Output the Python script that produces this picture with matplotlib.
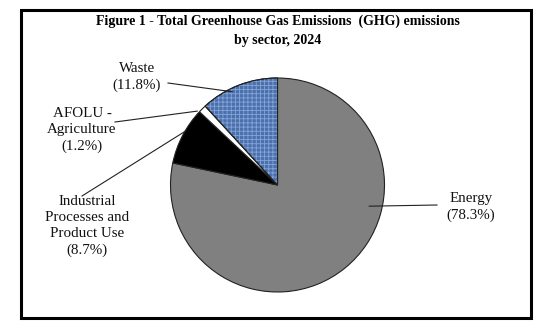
import matplotlib
matplotlib.use("Agg")
import matplotlib.pyplot as plt
from matplotlib.patches import Wedge, Rectangle
import numpy as np

sectors = ["Energy", "Industrial\nProcesses and\nProduct Use", "AFOLU -\nAgriculture", "Waste"]
shares = [78.3, 8.7, 1.2, 11.8]
colors = ["#808080", "#000000", "#ffffff", "#4a70ad"]
explode = [0.0, 0.025, 0.025, 0.02]

title = "Figure 1 - Total Greenhouse Gas Emissions  (GHG) emissions\nby sector, 2024"

plt.rcParams["hatch.linewidth"] = 0.6

W, H = 557, 334
fig = plt.figure(figsize=(W / 100, H / 100), dpi=100)
ax = fig.add_axes([0, 0, 1, 1])

cx, cy, r = 277.5, H - 185, 107
wedges, _ = ax.pie(
    shares, colors=colors, startangle=90, counterclock=False,
    explode=explode, center=(cx, cy), radius=r,
    wedgeprops=dict(edgecolor="#222222", linewidth=0.8),
)
ax.set_xlim(0, W)
ax.set_ylim(0, H)
ax.set_aspect("equal", adjustable="box")
ax.axis("off")

# speckled texture on the Waste wedge
w = wedges[3]
ax.add_patch(Wedge(w.center, w.r, w.theta1, w.theta2, facecolor="none",
                   edgecolor="#86a4d6", hatch="++++", linewidth=0))
ax.add_patch(Wedge(w.center, w.r, w.theta1, w.theta2, facecolor="none",
                   edgecolor="#222222", linewidth=0.8))

# outer frame
ax.add_patch(Rectangle((21, H - 318), 510, 308, fill=False,
                       edgecolor="black", linewidth=2.2))

ax.text(W / 2 - 1, H - 31, title, ha="center", va="center",
        fontsize=10, fontweight="bold", family="Liberation Serif",
        linespacing=1.6)

# labels with leader lines (label centre, line start, line end as angle/radius fraction)
label_pos = [(471, H - 207), (87, H - 226), (82, H - 130), (137, H - 77)]
line_start = [(437, H - 205), (82, H - 196), (115, H - 122), (168, H - 83)]
line_end = [(-13, 0.88), (150, 1.0), (137.4, 1.02), (116, 0.97)]
for wd, name, val, lp, ls, (ang, f) in zip(wedges, sectors, shares,
                                            label_pos, line_start, line_end):
    ax.text(lp[0], lp[1], f"{name}\n({val}%)", ha="center", va="center",
            fontsize=10.8, family="Liberation Serif", linespacing=1.3,
            color="#111111")
    a = np.deg2rad(ang)
    tip = (cx + r * f * np.cos(a), cy + r * f * np.sin(a))
    ax.plot([ls[0], tip[0]], [ls[1], tip[1]], color="#222222", linewidth=0.8)

fig.savefig("out.png", dpi=100)
